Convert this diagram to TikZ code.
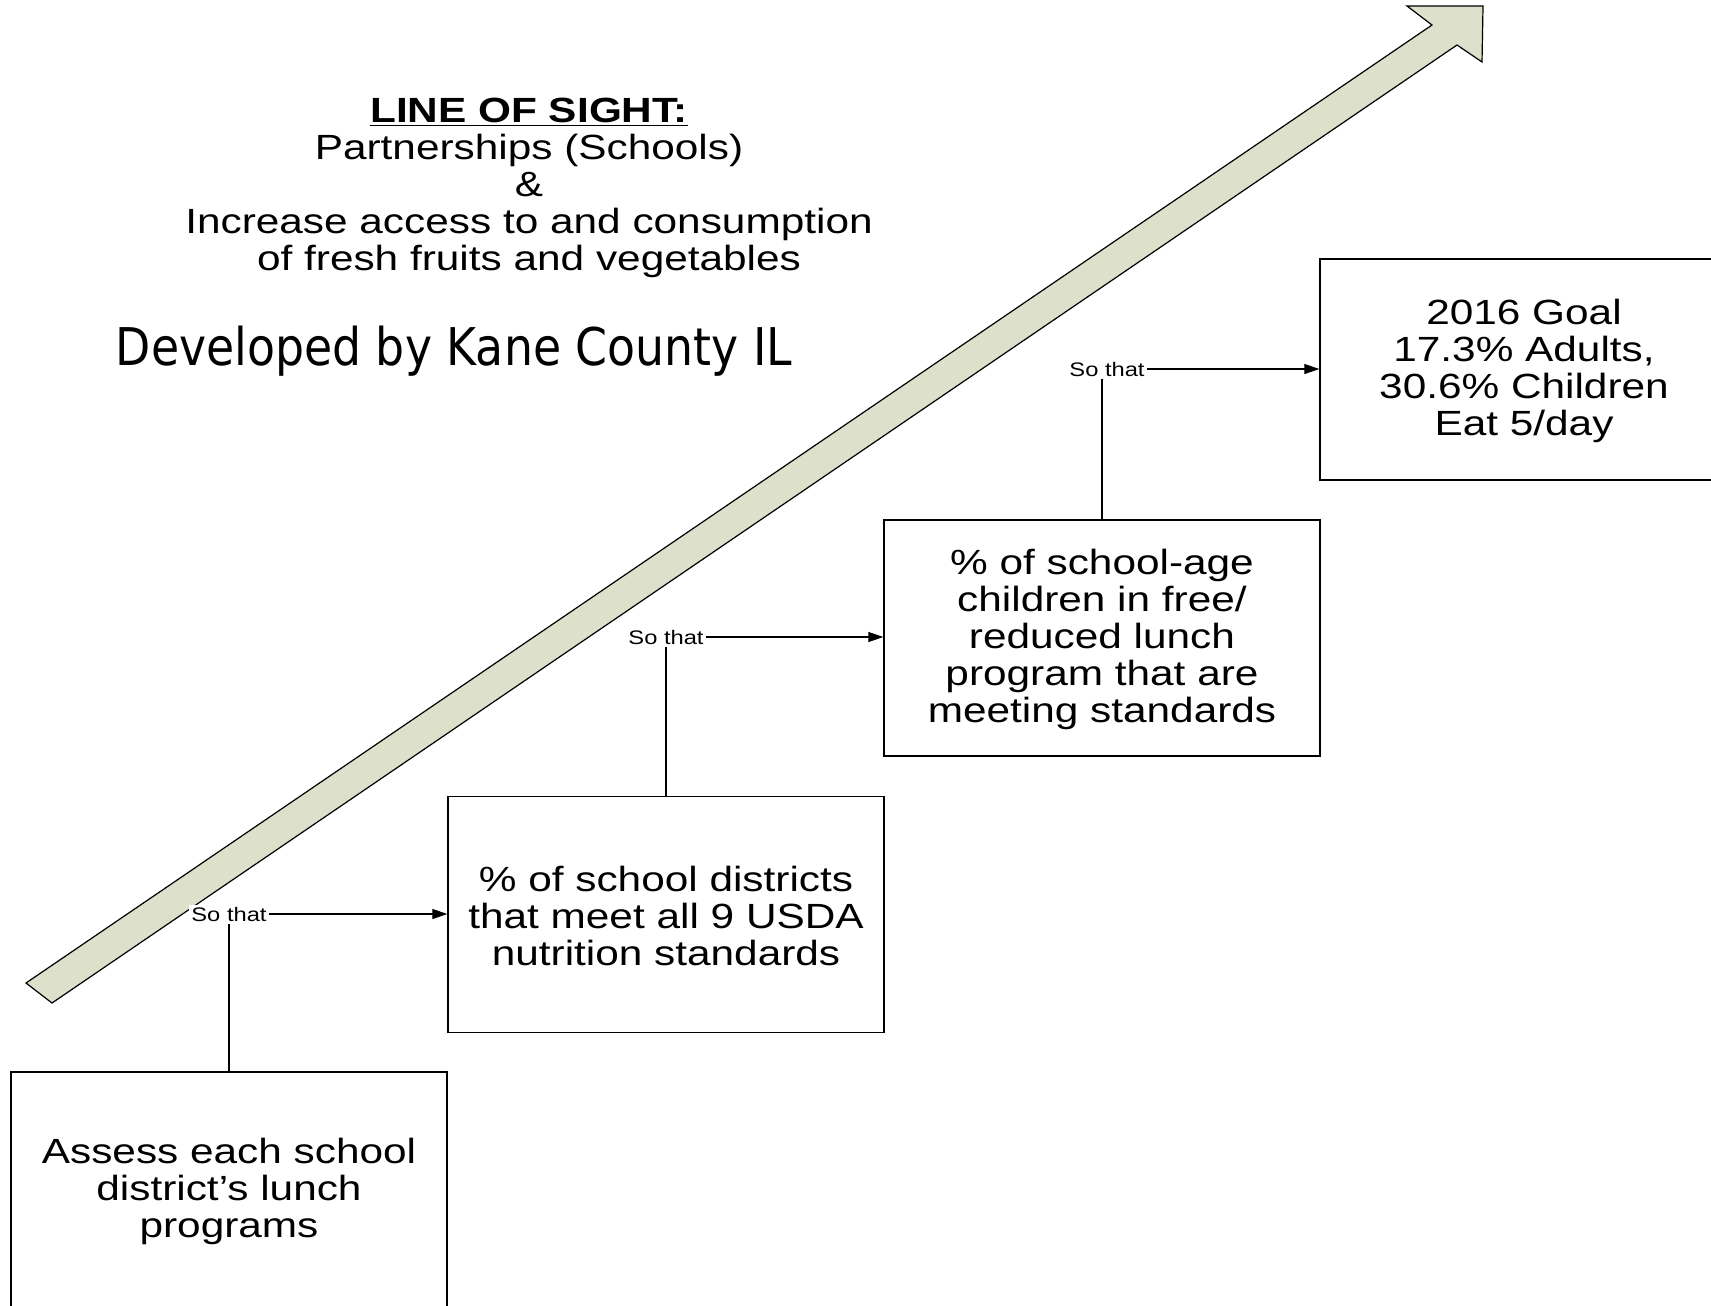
\documentclass[tikz,border=0pt]{standalone}
\usepackage{fontspec}
\setmainfont[FakeStretch=1.21]{Liberation Sans}
\newfontfamily\devfont[FakeStretch=0.88]{DejaVu Sans}
\usetikzlibrary{arrows.meta}
\definecolor{shaftgreen}{RGB}{221,224,203}

\begin{document}
\begin{tikzpicture}[x=0.5pt,y=-0.5pt,semithick,
  goalbox/.style={draw,line width=0.7pt,minimum width=218pt,minimum height=118pt,
    align=center,inner sep=0pt,font=\fontsize{17.5}{18.5}\selectfont},
  sothat/.style={fill=white,inner sep=1pt,font=\fontsize{9.8}{10}\selectfont},
  link/.style={line width=0.6pt},
  tip/.style={-{Triangle[length=7.5pt,width=5pt]}}]
  \useasboundingbox (0,0) rectangle (1711,1305);
  \clip (0,0) rectangle (1711,1305);

  \filldraw[fill=shaftgreen,line width=0.6pt,line join=miter]
    (26,983) -- (1432,25) -- (1407,6) -- (1483,6) -- (1482,62) -- (1457,45) -- (52,1003) -- cycle;

  \node[align=center,inner sep=0pt,font=\fontsize{17.5}{18.5}\selectfont] (title) at (529,188)
    {\underline{\textbf{LINE OF SIGHT:}}\\Partnerships (Schools)\\\&\\
     Increase access to and consumption\\of fresh fruits and vegetables};
  \node[inner sep=0pt,font=\devfont\fontsize{26}{30}\selectfont] (dev) at (454,351)
    {Developed by Kane County IL};

  \node[goalbox] (assess) at (229,1190) {\rule{0pt}{14.5pt}Assess each school\\district’s lunch\\programs};
  \node[goalbox] (usda) at (666,914.5) {\rule{0pt}{14.5pt}\% of school districts\\that meet all 9 USDA\\nutrition standards};
  \node[goalbox] (lunch) at (1102,638) {\rule{0pt}{14.5pt}\% of school-age\\children in free/\\reduced lunch\\program that are\\meeting standards};
  \node[goalbox,minimum width=204pt,minimum height=110.5pt] (goal) at (1524,369.5)
    {\rule{0pt}{14.5pt}2016 Goal\\17.3\% Adults,\\30.6\% Children\\Eat 5/day};

  \node[sothat] (st1) at (229,914) {So that};
  \node[sothat] (st2) at (666,637) {So that};
  \node[sothat] (st3) at (1107,369) {So that};

  \draw[link] (assess.north) -- (assess.north |- st1.south);
  \draw[link,tip] (st1.east) -- (st1.east -| usda.west);
  \draw[link] (usda.north) -- (usda.north |- st2.south);
  \draw[link,tip] (st2.east) -- (st2.east -| lunch.west);
  \draw[link] (lunch.north) -- (lunch.north |- st3.south);
  \draw[link,tip] (st3.east) -- (st3.east -| goal.west);
\end{tikzpicture}
\end{document}
